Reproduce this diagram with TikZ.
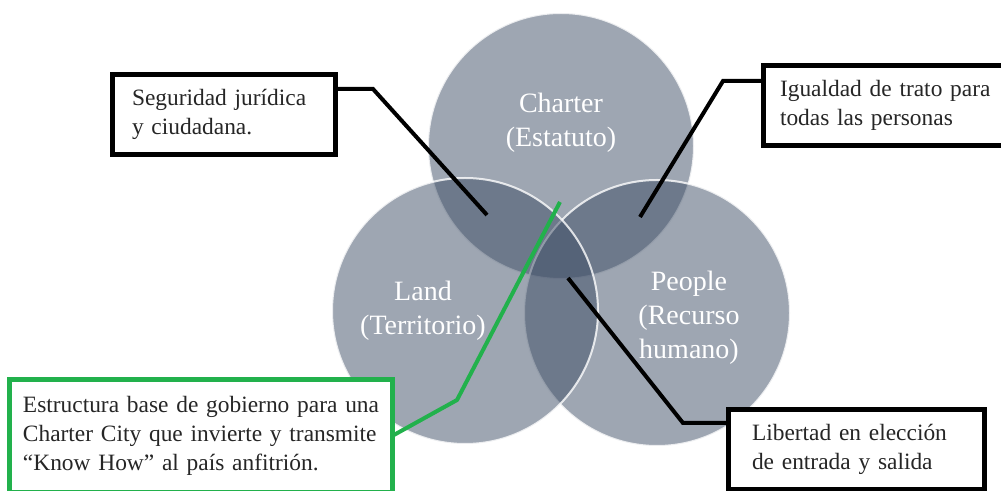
\documentclass[tikz,border=0pt]{standalone}
\usepackage{fontspec}
\setmainfont{Liberation Serif}
\usetikzlibrary{positioning}

\begin{document}
\begin{tikzpicture}[x=0.5pt,y=-0.5pt,
        circulo/.style={circle,minimum size=133pt,inner sep=0pt,outer sep=0pt,fill=azul,fill opacity=0.5,draw=white,draw opacity=0.8,line width=1pt},
        rotulo/.style={text=white,align=center,font=\fontsize{14}{17}\selectfont},
        caja/.style={draw=black,line width=2.5pt,fill=white,anchor=north west,outer sep=0pt,inner ysep=0pt,align=left,text=black!85,font=\fontsize{11.7}{14.5}\selectfont},
        linea/.style={line width=2pt}]
        %colores
        \definecolor{azul}{RGB}{61,77,101}
        \definecolor{verde}{RGB}{34,177,76}

        % marco
        \useasboundingbox (0,0) rectangle (1001,491);

        % circulos
        \node[circulo] (charter) at (561,146) {};
        \node[circulo] (people) at (657,313) {};
        \node[circulo] (land) at (465,311) {};
        \node[rotulo] (chartertxt) at ([yshift=11.5pt]charter.center) {Charter\\(Estatuto)};
        \node[rotulo] (landtxt) at ([xshift=-21pt]land.center) {Land\\(Territorio)};
        \node[rotulo] (peopletxt) at ([xshift=16pt,yshift=-2.5pt]people.center) {People\\(Recurso\\humano)};

        % cajas
        \node[caja,inner xsep=9.75pt,text width=92pt,minimum height=40pt] (seg) at (112.5,74.5) {\mbox{Seguridad jurídica}\\\mbox{y ciudadana.}};
        \node[caja,inner xsep=8.25pt,text width=116.75pt,minimum height=40pt] (igu) at (763.5,65.5) {\mbox{Igualdad de trato para}\\\mbox{todas las personas}};
        \node[caja,draw=verde,inner xsep=6.75pt,text width=178pt,minimum height=56.25pt] (est) at (9.5,379.5) {\mbox{Estructura base de gobierno para una}\\\mbox{Charter City que invierte y transmite}\\\mbox{``Know How'' al país anfitrión.}};
        \node[caja,inner xsep=11.75pt,text width=104.5pt,minimum height=40pt] (lib) at (728.5,409.5) {\mbox{Libertad en elección}\\\mbox{de entrada y salida}};

        % lineas
        \coordinate (segcodo) at (373,89);
        \coordinate (segpunta) at (487,215);
        \coordinate (igucodo) at (723,81);
        \coordinate (igupunta) at (640,217);
        \coordinate (estcodo) at (457,400);
        \coordinate (estpunta) at (560,202);
        \coordinate (libpunta) at (568,278);
        \coordinate (libcodo) at (683,423);
        \draw[linea] (seg.east |- segcodo) -- (segcodo) -- (segpunta);
        \draw[linea] (igu.west |- igucodo) -- (igucodo) -- (igupunta);
        \draw[linea,verde] (est.east) -- (estcodo) -- (estpunta);
        \draw[linea] (libpunta) -- (libcodo) -- (lib.west |- libcodo);
    \end{tikzpicture}
\end{document}
